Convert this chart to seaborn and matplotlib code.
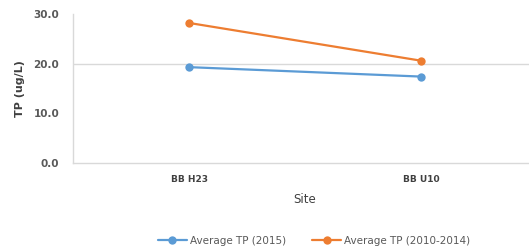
import matplotlib
matplotlib.use("Agg")
import matplotlib.pyplot as plt
import seaborn as sns
import pandas as pd

sites = ["BB H23", "BB U10"]
tp_2015 = [19.3, 17.4]
tp_2010_2014 = [28.2, 20.6]
series_names = ["Average TP (2015)", "Average TP (2010-2014)"]
colors = ["#5B9BD5", "#ED7D31"]
yticks = [0, 10, 20, 30]

df = pd.DataFrame({
    "Site": sites * 2,
    "TP": tp_2015 + tp_2010_2014,
    "Series": [series_names[0]] * 2 + [series_names[1]] * 2,
})

sns.set_style("white")
plt.rcParams["font.family"] = ["DejaVu Sans"]

fig = plt.figure(figsize=(5.29, 2.52), dpi=100)
ax = fig.add_axes([73/529, 89/252, 464/529, 149/252])

ax.axhline(20, color="#D9D9D9", lw=1.0, zorder=0)

sns.lineplot(data=df, x="Site", y="TP", hue="Series", palette=colors,
             marker="o", markersize=6, markeredgewidth=0, linewidth=1.6,
             ax=ax, legend=True, sort=False)

ax.set_xlim(-0.5, 1.5)
ax.set_ylim(0, 30)
ax.set_yticks(yticks)
ax.set_yticklabels([f"{v:.1f}" for v in yticks], fontsize=7.5, fontweight="bold", color="#595959")
ax.set_xticks(range(len(sites)))
ax.set_xticklabels(sites, fontsize=6.5, fontweight="bold", color="#404040")
ax.tick_params(axis="y", length=0, pad=10)
ax.tick_params(axis="x", length=0, pad=9)

for s in ["top", "right"]:
    ax.spines[s].set_visible(False)
for s in ["left", "bottom"]:
    ax.spines[s].set_color("#D9D9D9")
    ax.spines[s].set_linewidth(1.0)

ax.set_ylabel("TP (ug/L)", fontsize=8, fontweight="bold", color="#404040", labelpad=6)
ax.set_xlabel("Site", fontsize=8.5, color="#404040", labelpad=6)

handles, labels = ax.get_legend_handles_labels()
ax.legend_.remove()
fig.legend(handles, labels, loc="center", bbox_to_anchor=(314/529, 1 - 241/252),
           ncol=2, frameon=False, fontsize=7.5, handlelength=2.8, columnspacing=2.5,
           handletextpad=0.3, labelcolor="#595959")

fig.savefig("out.png", dpi=100)
